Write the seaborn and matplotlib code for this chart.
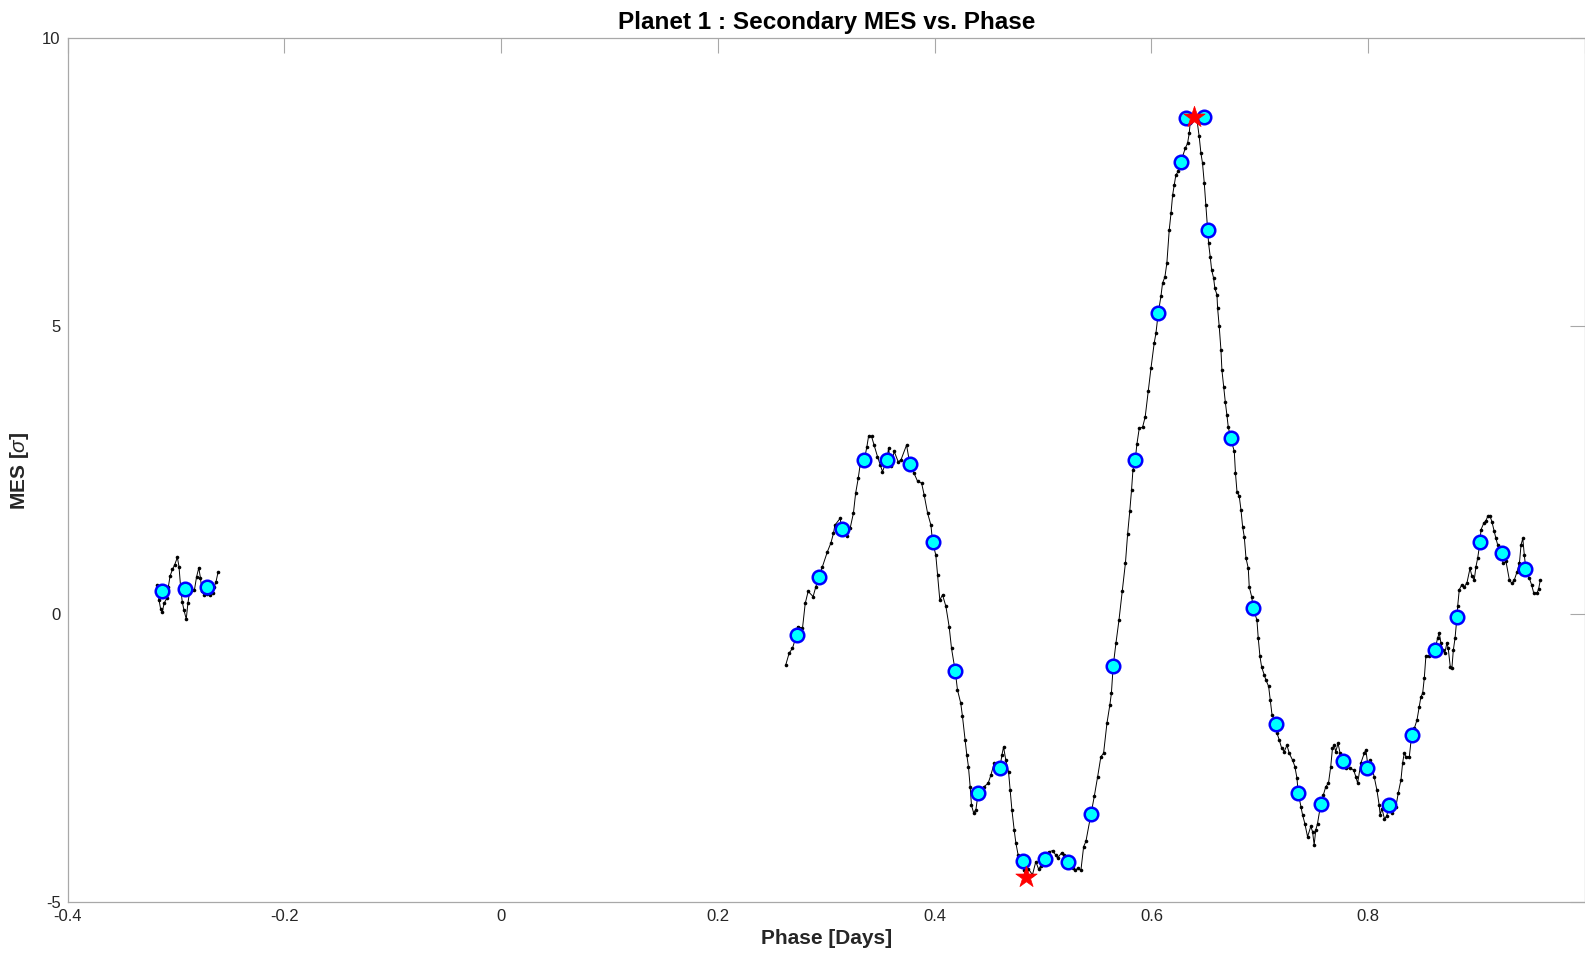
import numpy as np
import pandas as pd
import seaborn as sns
import matplotlib.pyplot as plt

# --- data -------------------------------------------------------------------
LEFT_PHASE = [-0.3178, -0.3157, -0.3142, -0.3126, -0.3111, -0.3086, -0.3071, -0.3056,
              -0.3034, -0.3013, -0.2988, -0.2973, -0.2958, -0.2943, -0.2928, -0.2906,
              -0.2891, -0.2872, -0.2851, -0.2830, -0.2811, -0.2790, -0.2775, -0.2760,
              -0.2739, -0.2714, -0.2690, -0.2662, -0.2647, -0.2631, -0.2613]
LEFT_MES = [0.51, 0.25, 0.09, 0.05, 0.19, 0.28, 0.48, 0.66,
            0.78, 0.86, 0.99, 0.83, 0.48, 0.22, 0.08, -0.08,
            0.19, 0.43, 0.43, 0.43, 0.65, 0.81, 0.63, 0.40,
            0.34, 0.36, 0.34, 0.38, 0.48, 0.57, 0.73]

MAIN_PHASE = [
    0.2625, 0.2657, 0.2687, 0.2725, 0.2734, 0.2780, 0.2805, 0.2832, 0.2878, 0.2903,
    0.2930, 0.2964, 0.3010, 0.3042, 0.3066, 0.3079, 0.3128, 0.3140, 0.3190, 0.3220,
    0.3250, 0.3270, 0.3294, 0.3312, 0.3350, 0.3374, 0.3390, 0.3417, 0.3441, 0.3472,
    0.3497, 0.3518, 0.3559, 0.3574, 0.3595, 0.3626, 0.3663, 0.3688, 0.3740, 0.3770,
    0.3810, 0.3842, 0.3879, 0.3903, 0.3934, 0.3965, 0.3980, 0.4010, 0.4026, 0.4047,
    0.4072, 0.4103, 0.4133, 0.4155, 0.4189, 0.4210, 0.4240, 0.4256, 0.4280, 0.4296,
    0.4311, 0.4327, 0.4339, 0.4358, 0.4380, 0.4401, 0.4426, 0.4456, 0.4493, 0.4518,
    0.4549, 0.4571, 0.4601, 0.4620, 0.4635, 0.4656, 0.4681, 0.4696, 0.4712, 0.4733,
    0.4749, 0.4770, 0.4800, 0.4822, 0.4841, 0.4865, 0.4902, 0.4933, 0.4958, 0.4980,
    0.5020, 0.5057, 0.5087, 0.5118, 0.5133, 0.5170, 0.5195, 0.5232, 0.5272, 0.5296,
    0.5318, 0.5349, 0.5374, 0.5395, 0.5441, 0.5472, 0.5503, 0.5533, 0.5558, 0.5589,
    0.5616, 0.5630, 0.5647, 0.5672, 0.5700, 0.5730, 0.5760, 0.5780, 0.5800, 0.5816,
    0.5829, 0.5850, 0.5865, 0.5887, 0.5918, 0.5942, 0.5970, 0.5995, 0.6025, 0.6041,
    0.6063, 0.6087, 0.6102, 0.6124, 0.6142, 0.6164, 0.6180, 0.6195, 0.6210, 0.6225,
    0.6247, 0.6272, 0.6287, 0.6311, 0.6333, 0.6348, 0.6357, 0.6395, 0.6420, 0.6440,
    0.6456, 0.6471, 0.6487, 0.6502, 0.6518, 0.6527, 0.6542, 0.6555, 0.6573, 0.6585,
    0.6604, 0.6610, 0.6625, 0.6641, 0.6650, 0.6666, 0.6681, 0.6696, 0.6708, 0.6730,
    0.6764, 0.6775, 0.6789, 0.6810, 0.6826, 0.6841, 0.6856, 0.6872, 0.6893, 0.6902,
    0.6924, 0.6939, 0.6973, 0.6985, 0.7001, 0.7016, 0.7041, 0.7056, 0.7081, 0.7096,
    0.7112, 0.7149, 0.7158, 0.7179, 0.7201, 0.7225, 0.7250, 0.7271, 0.7302, 0.7323,
    0.7342, 0.7354, 0.7379, 0.7394, 0.7415, 0.7440, 0.7470, 0.7486, 0.7501, 0.7516,
    0.7532, 0.7562, 0.7587, 0.7608, 0.7633, 0.7654, 0.7670, 0.7685, 0.7700, 0.7722,
    0.7740, 0.7770, 0.7794, 0.7834, 0.7865, 0.7886, 0.7902, 0.7932, 0.7963, 0.7978,
    0.7995, 0.8018, 0.8055, 0.8080, 0.8101, 0.8110, 0.8126, 0.8150, 0.8170, 0.8194,
    0.8215, 0.8255, 0.8277, 0.8302, 0.8317, 0.8332, 0.8348, 0.8379, 0.8401, 0.8425,
    0.8450, 0.8471, 0.8486, 0.8502, 0.8517, 0.8532, 0.8563, 0.8590, 0.8603, 0.8615,
    0.8640, 0.8655, 0.8671, 0.8686, 0.8707, 0.8726, 0.8738, 0.8757, 0.8772, 0.8785,
    0.8801, 0.8819, 0.8825, 0.8840, 0.8862, 0.8887, 0.8911, 0.8939, 0.8957, 0.8978,
    0.8994, 0.9010, 0.9031, 0.9040, 0.9065, 0.9086, 0.9102, 0.9123, 0.9141, 0.9163,
    0.9178, 0.9194, 0.9225, 0.9245, 0.9271, 0.9302, 0.9324, 0.9348, 0.9373, 0.9395,
    0.9410, 0.9426, 0.9440, 0.9455, 0.9486, 0.9508, 0.9527, 0.9557, 0.9572, 0.9587]
MAIN_MES = [
    -0.88, -0.67, -0.59, -0.36, -0.21, -0.24, 0.19, 0.40, 0.31, 0.48,
    0.65, 0.83, 1.09, 1.24, 1.41, 1.55, 1.67, 1.48, 1.36, 1.50,
    1.76, 2.10, 2.36, 2.60, 2.68, 2.91, 3.10, 3.09, 2.94, 2.74,
    2.60, 2.48, 2.68, 2.89, 2.57, 2.83, 2.65, 2.68, 2.94, 2.62,
    2.45, 2.31, 2.28, 2.07, 1.76, 1.55, 1.26, 1.03, 0.69, 0.25,
    0.34, 0.14, -0.21, -0.59, -0.98, -1.31, -1.54, -1.77, -2.18, -2.44,
    -2.64, -2.99, -3.31, -3.44, -3.39, -3.10, -3.19, -2.99, -2.93, -2.79,
    -2.58, -2.64, -2.67, -2.44, -2.30, -2.53, -2.73, -3.05, -3.39, -3.74,
    -3.97, -4.18, -4.28, -4.44, -4.56, -4.42, -4.52, -4.29, -4.42, -4.37,
    -4.24, -4.12, -4.10, -4.18, -4.23, -4.14, -4.18, -4.29, -4.41, -4.44,
    -4.41, -4.44, -4.03, -3.94, -3.47, -3.16, -2.82, -2.47, -2.41, -1.89,
    -1.57, -1.37, -0.89, -0.50, -0.10, 0.40, 0.90, 1.40, 1.80, 2.16,
    2.51, 2.68, 2.95, 3.23, 3.25, 3.43, 3.87, 4.27, 4.71, 4.88,
    5.24, 5.52, 5.75, 5.86, 6.10, 6.68, 6.96, 7.28, 7.46, 7.63,
    7.69, 7.86, 7.95, 8.09, 8.18, 8.35, 8.53, 8.64, 8.58, 8.30,
    8.01, 7.83, 7.49, 7.11, 6.68, 6.44, 6.21, 5.98, 5.84, 5.66,
    5.55, 5.32, 5.00, 4.59, 4.24, 3.95, 3.69, 3.46, 3.26, 3.06,
    2.83, 2.45, 2.13, 2.05, 1.81, 1.52, 1.35, 0.98, 0.80, 0.48,
    0.31, 0.11, -0.10, -0.41, -0.73, -0.91, -1.05, -1.14, -1.25, -1.48,
    -1.74, -1.91, -2.06, -2.18, -2.32, -2.38, -2.27, -2.41, -2.53, -2.64,
    -2.84, -3.10, -3.34, -3.48, -3.63, -3.86, -3.68, -3.77, -4.00, -3.74,
    -3.63, -3.29, -3.13, -2.99, -2.93, -2.64, -2.32, -2.27, -2.38, -2.24,
    -2.41, -2.54, -2.67, -2.67, -2.70, -2.82, -2.93, -2.58, -2.41, -2.35,
    -2.60, -2.53, -2.82, -3.05, -3.31, -3.48, -3.37, -3.55, -3.50, -3.31,
    -3.45, -3.34, -3.10, -2.87, -2.58, -2.41, -2.47, -2.47, -2.09, -1.98,
    -1.83, -1.60, -1.43, -1.37, -1.11, -0.72, -0.72, -0.60, -0.51, -0.62,
    -0.41, -0.32, -0.50, -0.62, -0.67, -0.49, -0.59, -0.91, -0.93, -0.62,
    -0.41, -0.04, 0.14, 0.43, 0.51, 0.48, 0.55, 0.80, 0.66, 0.60,
    0.83, 0.98, 1.25, 1.47, 1.58, 1.63, 1.70, 1.71, 1.61, 1.44,
    1.32, 1.21, 1.06, 0.89, 0.92, 0.60, 0.54, 0.60, 0.74, 0.89,
    1.21, 1.32, 1.03, 0.78, 0.63, 0.51, 0.37, 0.37, 0.44, 0.59]

CIRCLE_PHASE = [-0.3126, -0.2922, -0.2714,
                0.2725, 0.2930, 0.3140, 0.3350, 0.3559, 0.3770, 0.3980, 0.4189,
                0.4401, 0.4601, 0.4812, 0.5020, 0.5232, 0.5441, 0.5647, 0.5850,
                0.6063, 0.6272, 0.6318, 0.6487, 0.6518, 0.6730, 0.6939, 0.7149,
                0.7354, 0.7562, 0.7770, 0.7985, 0.8194, 0.8401, 0.8615, 0.8819,
                0.9031, 0.9235, 0.9450]
CIRCLE_MES = [0.40, 0.44, 0.48,
              -0.36, 0.65, 1.48, 2.68, 2.68, 2.62, 1.26, -0.98,
              -3.10, -2.67, -4.28, -4.24, -4.29, -3.47, -0.89, 2.68,
              5.24, 7.86, 8.61, 8.64, 6.68, 3.06, 0.11, -1.91,
              -3.10, -3.29, -2.54, -2.67, -3.31, -2.09, -0.62, -0.04,
              1.25, 1.06, 0.78]

STAR_PHASE = [0.4841, 0.6395]
STAR_MES = [-4.56, 8.64]

X_TICKS = [-0.4, -0.2, 0.0, 0.2, 0.4, 0.6, 0.8, 1.0]
# the label of the last tick falls outside the figure in the reference
X_TICK_LABELS = ["-0.4", "-0.2", "0", "0.2", "0.4", "0.6", "0.8", ""]
Y_TICKS = [-5, 0, 5, 10]
Y_TICK_LABELS = ["-5", "0", "5", "10"]

# --- style ------------------------------------------------------------------
sns.set_theme(style="white")
plt.rcParams["font.family"] = ["Liberation Sans Narrow", "Liberation Sans", "DejaVu Sans"]
plt.rcParams["axes.unicode_minus"] = False
plt.rcParams["mathtext.fontset"] = "custom"
plt.rcParams["mathtext.it"] = "Liberation Sans:italic"
plt.rcParams["mathtext.rm"] = "Liberation Sans"

AX_GRAY = "#a8a8a8"
TXT = "#262626"

fig = plt.figure(figsize=(15.85, 9.57), dpi=100)
ax = fig.add_axes([0.0427, 0.057, 0.9573, 0.9029])

left = pd.DataFrame({"phase": LEFT_PHASE, "mes": LEFT_MES})
main = pd.DataFrame({"phase": MAIN_PHASE, "mes": MAIN_MES})
for seg in (left, main):
    sns.lineplot(data=seg, x="phase", y="mes", sort=False, estimator=None, ax=ax,
                 color="black", linewidth=0.7, marker="o", markersize=2.6,
                 markeredgewidth=0, zorder=2)

circles = pd.DataFrame({"phase": CIRCLE_PHASE, "mes": CIRCLE_MES})
sns.scatterplot(data=circles, x="phase", y="mes", ax=ax, s=95, color="#00ffff",
                edgecolor="#0000ff", linewidth=1.8, zorder=3)

stars = pd.DataFrame({"phase": STAR_PHASE, "mes": STAR_MES})
sns.scatterplot(data=stars, x="phase", y="mes", ax=ax, s=260, marker="*",
                color="#ff0000", edgecolor="#ff0000", linewidth=0.5, zorder=4)

ax.set_xlim(-0.4, 1.0)
ax.set_ylim(-5, 10)
ax.set_xticks(X_TICKS)
ax.set_xticklabels(X_TICK_LABELS)
ax.set_yticks(Y_TICKS)
ax.set_yticklabels(Y_TICK_LABELS)
ax.tick_params(direction="in", length=10.8, width=0.8, color=AX_GRAY,
               top=True, right=True, labelsize=12, labelcolor=TXT, pad=5)
for sp in ax.spines.values():
    sp.set_color(AX_GRAY)
    sp.set_linewidth(0.9)

ax.set_title("Planet 1 : Secondary MES vs. Phase", fontsize=17.5, fontweight="bold",
             color="black", pad=7, family=["Liberation Sans", "DejaVu Sans"])
ax.set_xlabel("Phase [Days]", fontsize=15, fontweight="bold", color=TXT, labelpad=3)
ax.set_ylabel(r"MES [$\sigma$]", fontsize=15, fontweight="bold", color=TXT, labelpad=8)

fig.savefig("out.png", dpi=100)
